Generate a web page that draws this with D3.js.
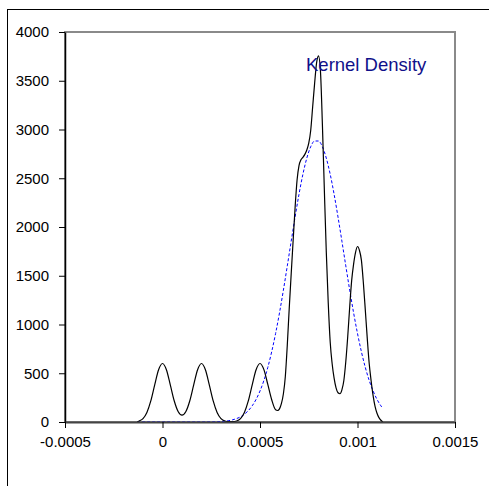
<!DOCTYPE html>
<html>
<head>
<meta charset="utf-8">
<script src="https://cdn.jsdelivr.net/npm/d3@7"></script>
<style>
  html, body { margin: 0; padding: 0; background: #fff; }
  svg { display: block; }
  text { font-family: "Liberation Sans", Arial, sans-serif; }
</style>
</head>
<body>
<svg id="chart" width="489" height="486"></svg>
<script>
// ---- Data ----
const kdeX = [-0.00013,-0.00012,-0.0001,-0.00008,-0.00006,-0.00004,-0.00002,0,0.00002,0.00004,0.00006,0.00008,0.0001,0.00012,0.00014,0.00016,0.00018,0.0002,0.00022,0.00024,0.00026,0.00028,0.0003,0.00032,0.00034,0.00036,0.00038,0.0004,0.00042,0.00044,0.00046,0.00048,0.0005,0.00052,0.00054,0.00056,0.00058,0.00059,0.0006,0.00061,0.00062,0.00063,0.00064,0.00065,0.00066,0.00067,0.00068,0.00069,0.0007,0.00071,0.00072,0.00073,0.00074,0.00075,0.00076,0.00077,0.00078,0.00079,0.0008,0.00081,0.00082,0.00083,0.00084,0.00085,0.00086,0.00087,0.00088,0.00089,0.0009,0.00091,0.00092,0.00093,0.00094,0.00095,0.00096,0.00097,0.00098,0.00099,0.001,0.00101,0.00102,0.00103,0.00104,0.00105,0.00106,0.00107,0.00108,0.00109,0.0011,0.00111,0.00112,0.00113];
const kdeY = [0,10,35,98,216,381,536,600,536,381,218,108,70,108,218,381,536,600,536,381,216,98,35,10,3,3,10,35,98,216,381,536,600,537,385,228,125,118,135,190,290,470,790,1170,1520,1864,2200,2480,2630,2690,2715,2745,2790,2860,2990,3230,3470,3680,3755,3600,3050,2380,1740,1220,820,598,450,350,300,290,330,426,620,880,1180,1450,1620,1740,1800,1760,1660,1430,1150,860,600,420,270,160,90,45,18,0];

const normX = [-0.00013,0,0.0001,0.0002,0.00028,0.0003,0.00032,0.00034,0.00036,0.00038,0.0004,0.00042,0.00044,0.00046,0.00048,0.0005,0.00052,0.00054,0.00056,0.00058,0.0006,0.00062,0.00064,0.00066,0.00068,0.0007,0.00072,0.00074,0.00076,0.00078,0.0008,0.00082,0.00084,0.00086,0.00088,0.0009,0.00092,0.00094,0.00096,0.00098,0.001,0.00102,0.00104,0.00106,0.00108,0.0011,0.00112,0.00113];
const normY = [0,0,0,0,2,5,9,14,23,35,53,80,116,166,232,318,426,560,721,908,1120,1353,1601,1855,2103,2336,2541,2706,2823,2882,2882,2823,2706,2541,2336,2103,1855,1601,1353,1120,908,721,560,426,318,232,166,139];

const xTicks = [-0.0005, 0, 0.0005, 0.001, 0.0015];
const yTicks = [0, 500, 1000, 1500, 2000, 2500, 3000, 3500, 4000];
const chartLabel = "Kernel Density";

// ---- Layout ----
const svg = d3.select("#chart");
const mLeft = 65, mRight = 455, mTop = 32, mBottom = 422;

const x = d3.scaleLinear().domain([-0.0005, 0.0015]).range([mLeft, mRight]);
const y = d3.scaleLinear().domain([0, 4000]).range([mBottom, mTop]);

// outer chart frame (partly outside window)
svg.append("rect")
  .attr("x", 7.5).attr("y", 9.5)
  .attr("width", 600).attr("height", 600)
  .attr("fill", "none").attr("stroke", "#000").attr("stroke-width", 1);

// plot area frame
svg.append("rect")
  .attr("x", mLeft).attr("y", mTop)
  .attr("width", mRight - mLeft).attr("height", mBottom - mTop)
  .attr("fill", "#fff").attr("stroke", "#8a8a8a").attr("stroke-width", 2);

// curves
const kdeData = kdeX.map((v, i) => [v, kdeY[i]]);
const normData = normX.map((v, i) => [v, normY[i]]);

const line = d3.line().x(d => x(d[0])).y(d => y(d[1])).curve(d3.curveMonotoneX);

svg.append("path")
  .datum(normData)
  .attr("d", line)
  .attr("fill", "none")
  .attr("stroke", "#0000ff")
  .attr("stroke-width", 1)
  .attr("stroke-dasharray", "3,2");

svg.append("path")
  .datum(kdeData)
  .attr("d", line)
  .attr("fill", "none")
  .attr("stroke", "#000")
  .attr("stroke-width", 1.2);

// axes
const fmt = d => String(+(+d).toFixed(4));

const yAxis = svg.append("g")
  .attr("transform", `translate(${mLeft},0)`)
  .call(d3.axisLeft(y).tickValues(yTicks).tickSize(6).tickSizeOuter(0).tickPadding(10).tickFormat(d => String(d)));
yAxis.select(".domain").attr("stroke", "#000").attr("stroke-width", 1.5);
yAxis.selectAll(".tick line").attr("stroke", "#000");
yAxis.selectAll("text").attr("font-size", 15).attr("fill", "#000")
  .attr("font-family", "Liberation Sans, Arial, sans-serif");

const xAxis = svg.append("g")
  .attr("transform", `translate(0,${mBottom})`)
  .call(d3.axisBottom(x).tickValues(xTicks).tickSize(6).tickSizeOuter(0).tickPadding(8).tickFormat(fmt));
xAxis.select(".domain").attr("stroke", "#444").attr("stroke-width", 2);
xAxis.selectAll(".tick line").attr("stroke", "#000");
xAxis.selectAll("text").attr("font-size", 15).attr("fill", "#000")
  .attr("font-family", "Liberation Sans, Arial, sans-serif");

// label
svg.append("text")
  .attr("x", 306).attr("y", 71)
  .attr("font-size", 18.5)
  .attr("fill", "#10108a")
  .text(chartLabel);
</script>
</body>
</html>
